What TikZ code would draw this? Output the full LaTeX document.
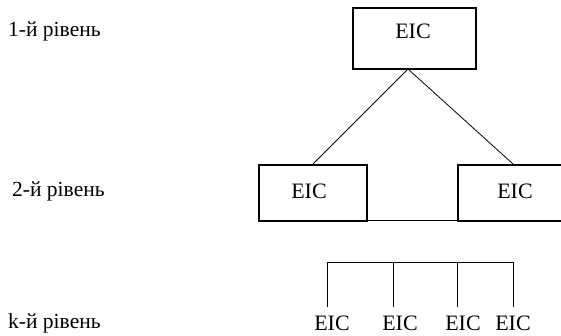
\documentclass[tikz,border=0pt]{standalone}
\usepackage{fontspec}
\setmainfont{Liberation Serif}
\begin{document}
\begin{tikzpicture}[x=1pt,y=-1pt,
  box/.style={draw,line width=2pt,rectangle,inner sep=0pt},
  txt/.style={inner sep=0pt,font=\fontsize{22}{25}\selectfont},
  lvl/.style={inner sep=0pt,anchor=west,font=\fontsize{21.5}{25}\selectfont},
  conn/.style={line width=0.8pt}]
\path[use as bounding box] (0,0) rectangle (561,335);
\clip (0,0) rectangle (561,335);
% level labels
\node[lvl] (l1) at (8,31) {1-й рівень};
\node[lvl] (l2) at (12,191) {2-й рівень};
\node[lvl] (lk) at (8,323) {k-й рівень};
% top box
\node[box,minimum width=123pt,minimum height=61pt] (top) at (414,38) {};
\node[txt] (topt) at (413,31) {EIC};
% second level
\node[box,minimum width=108pt,minimum height=56pt] (bl) at (313,193) {};
\node[txt] (blt) at (309,191) {EIC};
\node[box,minimum width=110pt,minimum height=56pt] (br) at (513,193) {};
\node[txt] (brt) at (515,191) {EIC};
\coordinate (apex) at (408,69);
\draw[conn] (apex) -- (bl.north);
\draw[conn] (apex) -- (br.north);
\draw[conn] (bl.south east) ++(0,-1.5) coordinate (bse) -- (bse -| br.west);
% k level
\node[txt] (k1) at (332,323) {EIC};
\node[txt] (k2) at (400,323) {EIC};
\node[txt] (k3) at (463,323) {EIC};
\node[txt] (k4) at (513,323) {EIC};
\coordinate (bus1) at (327,262);
\coordinate (bus4) at (513,262);
\draw[conn] (bus1) -- (bus4);
\draw[conn] (bus1) -- (bus1 |- 0,307);
\draw[conn] (393,262) -- (393,307);
\draw[conn] (457,262) -- (457,307);
\draw[conn] (bus4) -- (bus4 |- 0,307);
\end{tikzpicture}
\end{document}
